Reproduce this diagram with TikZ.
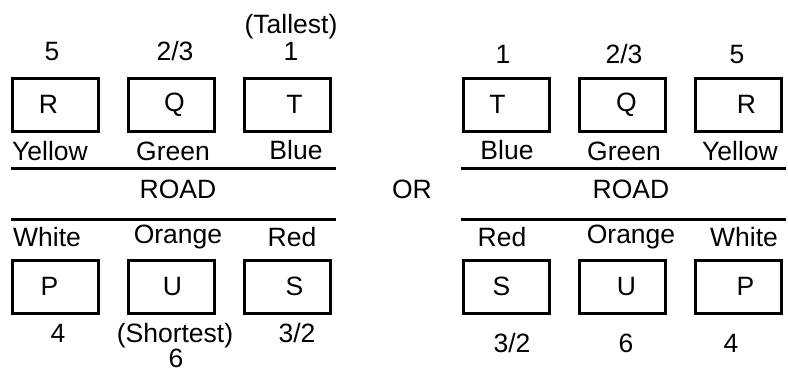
\documentclass[tikz,border=0pt]{standalone}
\usepackage{fontspec}
\setmainfont{Liberation Sans}
\usepackage{tikz}
\usetikzlibrary{positioning}

\tikzset{
  house/.style 2 args={draw, line width=3.4pt, minimum width=86pt, minimum height=53pt,
    inner sep=0pt, outer sep=0pt, label={[xshift=#1]center:#2}},
  lbl/.style={anchor=base, inner sep=0pt},
  road/.style={line width=3pt},
}

\begin{document}
\begin{tikzpicture}[x=1pt, y=-1pt, node distance=30pt, font=\fontsize{26.5}{30}\selectfont]
  \useasboundingbox (0,0) rectangle (788,373);

  % first arrangement
  \node [house={-7pt}{R}] (R1) at (55.5,104.7) {};
  \node [house={3pt}{Q}, right=of R1] (Q1) {};
  \node [house={7pt}{T}, right=of Q1] (T1) {};
  \node [house={-6pt}{P}, below=129pt of R1] (P1) {};
  \node [house={1pt}{U}, right=of P1] (U1) {};
  \node [house={7pt}{S}, right=of U1] (S1) {};

  \node [lbl] (n51) at (52,60) {5};
  \node [lbl] (n231) at (175,60) {2/3};
  \node [lbl] (n11) at (291,60) {1};
  \node [lbl] (tall) at (291,33) {(Tallest)};
  \node [lbl] (yel1) at (50,160) {Yellow};
  \node [lbl] (gre1) at (173,160) {Green};
  \node [lbl] (blu1) at (296,159) {Blue};
  \node [lbl] (road1) at (178,198) {ROAD};
  \node [lbl] (whi1) at (47,246) {White};
  \node [lbl] (ora1) at (178,243) {Orange};
  \node [lbl] (red1) at (292,246) {Red};
  \node [lbl] (n41) at (58,342) {4};
  \node [lbl] (short) at (175,342) {(Shortest)};
  \node [lbl] (n61) at (176,367) {6};
  \node [lbl] (n321) at (297,342) {3/2};

  \coordinate (a1) at (11,168);
  \coordinate (b1) at (336,168);
  \coordinate (c1) at (11,219);
  \coordinate (d1) at (336,219);
  \draw [road] (a1) -- (b1);
  \draw [road] (c1) -- (d1);

  \node [lbl] (or) at (412,198) {OR};

  % second arrangement
  \node [house={-9pt}{T}] (T2) at (506.5,104.7) {};
  \node [house={4pt}{Q}, right=of T2] (Q2) {};
  \node [house={8pt}{R}, right=of Q2] (R2) {};
  \node [house={-5pt}{S}, below=129pt of T2] (S2) {};
  \node [house={4pt}{U}, right=of S2] (U2) {};
  \node [house={7pt}{P}, right=of U2] (P2) {};

  \node [lbl] (n12) at (503,63) {1};
  \node [lbl] (n232) at (624,63) {2/3};
  \node [lbl] (n52) at (737,63) {5};
  \node [lbl] (blu2) at (507,159) {Blue};
  \node [lbl] (gre2) at (624,160) {Green};
  \node [lbl] (yel2) at (740,160) {Yellow};
  \node [lbl] (road2) at (631,198) {ROAD};
  \node [lbl] (red2) at (502,246) {Red};
  \node [lbl] (ora2) at (631,243) {Orange};
  \node [lbl] (whi2) at (744,246) {White};
  \node [lbl] (n322) at (512,352) {3/2};
  \node [lbl] (n62) at (626,352) {6};
  \node [lbl] (n42) at (731,352) {4};

  \coordinate (a2) at (461,168);
  \coordinate (b2) at (786,168);
  \coordinate (c2) at (461,219);
  \coordinate (d2) at (786,219);
  \draw [road] (a2) -- (b2);
  \draw [road] (c2) -- (d2);
\end{tikzpicture}
\end{document}
